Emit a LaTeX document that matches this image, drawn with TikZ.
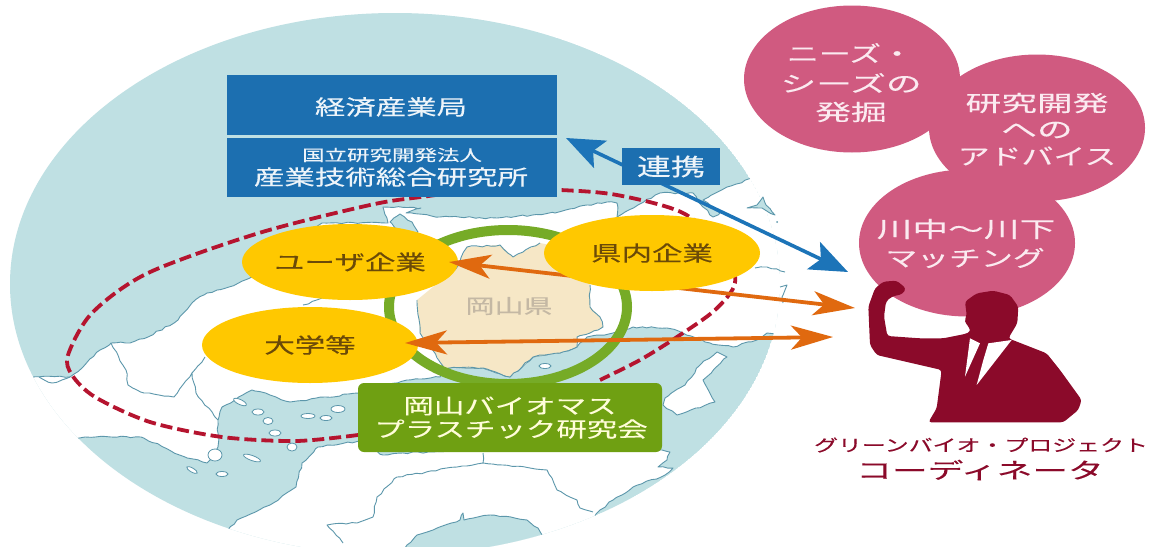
\documentclass[tikz,border=0pt]{standalone}
\usepackage{fontspec}
\usetikzlibrary{shapes.geometric,arrows.meta,decorations.pathmorphing}
\newfontfamily\jpx[FakeStretch=1.45,FakeBold=0.25]{Noto Sans CJK JP}
\newcommand{\fsz}[1]{\jpx\fontsize{#1}{#1}\selectfont}
\newcommand{\wider}[1]{\scalebox{1.12}[1]{#1}}
\definecolor{sea}{HTML}{BFE0E3}
\definecolor{coast}{HTML}{5C97AB}
\definecolor{beige}{HTML}{F6E7C6}
\definecolor{preftext}{HTML}{C4B8A4}
\definecolor{ringg}{HTML}{76AB27}
\definecolor{boxg}{HTML}{6FA012}
\definecolor{yell}{HTML}{FFC800}
\definecolor{ytext}{HTML}{6B4A08}
\definecolor{bluebox}{HTML}{1C6FB0}
\definecolor{bluearrow}{HTML}{1C74B8}
\definecolor{orangearrow}{HTML}{E0690F}
\definecolor{dashred}{HTML}{B5142F}
\definecolor{pink}{HTML}{D05A80}
\definecolor{pinktext}{HTML}{FBEAF0}
\definecolor{maroon}{HTML}{8B0A2A}
\tikzset{
  wiggle/.style={decorate,decoration={random steps,segment length=5pt,amplitude=0.9pt}},
  landshape/.style={fill=white,draw=coast,line width=0.9pt,line join=round,wiggle},
  seashape/.style={fill=sea,draw=coast,line width=0.9pt,line join=round,wiggle},
  coastline/.style={draw=coast,line width=0.9pt,line join=round,wiggle},
  isle/.style={ellipse,fill=white,draw=coast,line width=0.8pt,inner sep=0},
  yellowball/.style={ellipse,fill=yell,minimum width=216pt,minimum height=76pt,inner sep=0,text=ytext,font=\fsz{21}},
  pinkball/.style={ellipse,fill=pink,minimum width=216pt,minimum height=147pt,inner sep=0},
  pinklabel/.style={text=pinktext,inner sep=0,font=\fsz{22}},
  bluepanel/.style={fill=bluebox,inner sep=0,minimum width=330pt},
  whitelabel/.style={text=white!92!bluebox,inner sep=0},
  greenlabel/.style={text=white!85!yellow,inner sep=0,font=\fsz{21}},
  bluelink/.style={draw=bluearrow,line width=3.6pt,{Stealth[length=38pt,width=30pt,inset=8pt]}-{Stealth[length=38pt,width=30pt,inset=8pt]}},
  orangelink/.style={draw=orangearrow,line width=3.8pt,{Stealth[length=42pt,width=24pt,inset=11pt]}-{Stealth[length=42pt,width=24pt,inset=11pt]}},
}
\begin{document}
\begin{tikzpicture}[x=1pt,y=-1pt]
\pgfmathsetseed{7}
\useasboundingbox (0,0) rectangle (1155,546);
\fill[white] (0,0) rectangle (1155,546);
% sea and land, kept inside the round map
\begin{scope}
\clip (395,284) ellipse [x radius=385,y radius=271];
\fill[sea] (395,284) ellipse [x radius=385,y radius=271];
\path[landshape] (-20,377) -- (70,377) -- (83,367) -- (100,350) -- (111,343) -- (130,343) -- (148,337) -- (178,320) -- (192,303) -- (207,293) -- (229,287) -- (252,277) -- (270,255) -- (322,223) -- (388,223) -- (383,207) -- (421,208) -- (406,213) -- (440,217) -- (497,218) -- (555,213) -- (587,205) -- (607,202) -- (617,203) -- (617,217) -- (625,212) -- (660,193) -- (693,193) -- (703,207) -- (713,217) -- (720,213) -- (703,200) -- (727,187) -- (757,177) -- (810,170) -- (810,335) -- (777,335) -- (767,333) -- (757,340) -- (733,347) -- (710,343) -- (683,333) -- (667,328) -- (633,327) -- (613,333) -- (587,337) -- (577,347) -- (560,353) -- (533,357) -- (510,377) -- (483,368) -- (443,368) -- (440,377) -- (407,380) -- (359,393) -- (326,397) -- (290,402) -- (270,395) -- (252,390) -- (235,400) -- (222,407) -- (218,420) -- (218,447) -- (207,463) -- (185,457) -- (141,437) -- (111,437) -- (85,437) -- (-20,450) -- cycle;
\path[landshape] (200,560) -- (237,520) -- (270,505) -- (296,487) -- (302,463) -- (318,447) -- (359,441) -- (383,455) -- (403,453) -- (480,450) -- (662,450) -- (670,452) -- (667,460) -- (658,467) -- (673,468) -- (665,475) -- (633,487) -- (613,500) -- (600,510) -- (560,560) -- cycle;
\path[seashape] (395,560) -- (407,545) -- (417,535) -- (433,530) -- (460,520) -- (463,513) -- (464,520) -- (490,515) -- (527,520) -- (538,528) -- (560,560) -- cycle;
\path[landshape] (727,357) -- (717,352) -- (700,365) -- (685,385) -- (665,398) -- (663,405) -- (677,415) -- (715,402) -- (703,380) -- cycle;
\path[seashape] (390,222) -- (400,214) -- (412,222) -- (418,232) -- (405,235) -- (395,228) -- cycle;
\end{scope}
% coast pieces beyond the round map and boundaries on land
\draw[coastline] (39,377) -- (52,383) -- (70,377);
\draw[coastline] (111,343) -- (126,370) -- (128,385) -- (144,393) -- (174,397) -- (192,373) -- (196,393) -- (218,420);
\draw[coastline] (192,373) -- (205,357);
\draw[coastline] (303,305) -- (322,298);
\draw[coastline] (343,543) -- (327,525) -- (357,523) -- (373,517) -- (377,497) -- (397,477) -- (457,467) -- (483,463) -- (483,453);
\draw[coastline] (483,463) -- (530,468) -- (547,470) -- (557,490) -- (577,500) -- (580,508) -- (593,512);
\draw[coastline] (755,268) -- (767,267) -- (785,272);
\draw[coastline] (780,287) -- (787,285) -- (782,297) -- (783,303);
\path[seashape] (747,208) -- (757,205) -- (763,197) -- (766,205) -- (775,215) -- (762,208) -- cycle;
\fill[coast] (777,222) circle (1pt);
\node[isle,minimum width=14pt,minimum height=5pt,rotate=-25] (i1) at (240,402) {};
\node[isle,minimum width=12pt,minimum height=6pt] (i2) at (258,412) {};
\node[isle,minimum width=10pt,minimum height=7pt] (i3) at (268,421) {};
\node[isle,minimum width=12pt,minimum height=6pt] (i4) at (275,433) {};
\node[isle,minimum width=14pt,minimum height=5pt] (i5) at (308,416) {};
\node[isle,minimum width=14pt,minimum height=7pt] (i6) at (338,409) {};
\node[isle,minimum width=12pt,minimum height=5pt] (i7) at (326,418) {};
\node[isle,minimum width=14pt,minimum height=12pt] (i8) at (215,455) {};
\node[isle,minimum width=12pt,minimum height=5pt] (i9) at (222,474) {};
\node[isle,minimum width=18pt,minimum height=5pt,rotate=-20] (i10) at (252,458) {};
\node[isle,minimum width=10pt,minimum height=8pt] (i11) at (292,447) {};
\node[isle,minimum width=12pt,minimum height=4pt,rotate=-30] (i12) at (192,470) {};
% Okayama prefecture and ring
\path[fill=beige] (467,247) -- (500,245) -- (513,257) -- (540,243) -- (575,250) -- (590,285) -- (590,307) -- (600,317) -- (603,327) -- (590,333) -- (577,337) -- (577,347) -- (560,353) -- (533,357) -- (510,377) -- (483,368) -- (443,368) -- (447,373) -- (430,345) -- (420,333) -- (417,300) -- (433,287) -- (455,270) -- cycle;
\draw[coastline] (455,270) -- (467,247) -- (500,245) -- (513,257) -- (540,243);
\draw[coastline] (590,285) -- (590,307) -- (600,317) -- (603,327) -- (590,333) -- (577,337) -- (577,347) -- (560,353) -- (533,357) -- (510,377) -- (483,368) -- (443,368) -- (447,373);
\draw[coastline] (417,300) -- (420,333) -- (430,345) -- (447,373);
\node[isle,minimum width=12pt,minimum height=5pt] (i13) at (545,366) {};
\node[isle,minimum width=10pt,minimum height=5pt] (i14) at (566,372) {};
\node[inner sep=0,text=preftext,font=\fsz{20}] (pref) at (509,306) {岡山県};
\node[ellipse,draw=ringg,line width=10pt,minimum width=238pt,minimum height=154pt,inner sep=0] (ring) at (508,307) {};
% dashed zone
\draw[dashred,line width=3.8pt,dash pattern=on 12pt off 5pt] plot[smooth] coordinates {(358,435) (296,441) (222,437) (150,422) (95,397) (72,375) (68,355) (92,313) (148,273) (259,233) (370,205) (421,197) (490,189) (560,190) (617,195) (683,213) (725,250) (735,283) (715,310) (677,337) (640,360) (600,380)};
% panels
\node[bluepanel,minimum height=60pt] (meti) at (392,105) {};
\node[whitelabel,font=\fsz{21}] (metitext) at (391,107) {経済産業局};
\node[bluepanel,minimum height=59pt] (aist) at (392,167.5) {};
\node[whitelabel,font=\fsz{15.5}] (aist1) at (392,155) {国立研究開発法人};
\node[whitelabel,font=\fsz{21}] (aist2) at (391,177) {産業技術総合研究所};
% connectors and balls
\coordinate (blueA) at (566,138);
\coordinate (blueB) at (848,272);
\coordinate (oA1) at (449,262);
\coordinate (oB1) at (855,308);
\coordinate (oA2) at (405,343);
\coordinate (oB2) at (833,337);
\node[yellowball] (user) at (350,262) {ユーザ企業};
\node[yellowball] (univ) at (310,345) {大学等};
\draw[bluelink] (blueA) -- (blueB);
\draw[orangelink] (oA1) -- (oB1);
\node[yellowball] (firm) at (652,253) {県内企業};
\draw[orangelink] (oA2) -- (oB2);
\node[fill=bluebox,minimum width=98pt,minimum height=37pt,inner sep=0,text=white!92!bluebox,font=\fsz{23.5}] (link) at (671,166.5) {連携};
\node[fill=boxg,rounded corners=6pt,minimum width=304pt,minimum height=69pt,inner sep=0] (group) at (510,417.5) {};
\node[greenlabel] (g1) at (510,406) {岡山バイオマス};
\node[greenlabel] (g2) at (511,429) {プラスチック研究会};
% pink balls
\node[pinkball] (needs) at (852,79) {};
\node[pinkball] (advice) at (1037,128) {};
\node[pinkball] (match) at (967,243) {};
\node[pinklabel] (n1) at (850,53) {ニーズ・};
\node[pinklabel] (n2) at (851,83) {\wider{シーズの}};
\node[pinklabel] (n3) at (851,112) {\wider{発掘}};
\node[pinklabel] (a1) at (1037,103) {\wider{研究開発}};
\node[pinklabel] (a2) at (1037,130) {\wider{への}};
\node[pinklabel] (a3) at (1037,156) {アドバイス};
\node[pinklabel] (m1) at (966,229) {\wider{川中～川下}};
\node[pinklabel] (m2) at (965,258) {マッチング};
% figure
\begin{scope}[shift={(780,260)},x=0.3333pt,y=-0.3333pt]
\fill[maroon,rounded corners=3pt] (285,85) -- (310,65) -- (350,62) -- (378,85) -- (368,102) -- (335,110) -- (318,125) -- (312,170) -- (322,228) -- (420,235) -- (490,235) -- (555,222) -- (572,215) -- (565,198) -- (553,185) -- (560,165) -- (555,125) -- (590,100) -- (640,92) -- (690,105) -- (715,140) -- (712,190) -- (685,235) -- (800,280) -- (840,330) -- (905,420) -- (895,450) -- (850,487) -- (445,487) -- (470,445) -- (485,330) -- (290,285) -- (270,255) -- (265,140) -- cycle;
\fill[white] (570,235) -- (600,250) -- (555,350) -- cycle;
\fill[white] (625,250) -- (695,240) -- (590,375) -- (610,300) -- cycle;
\end{scope}
\node[inner sep=0,text=maroon,font=\fsz{16.5}] (title1) at (981,445) {グリーンバイオ・プロジェクト};
\node[inner sep=0,text=maroon,font=\fsz{22}] (title2) at (980,470) {\wider{コーディネータ}};
\end{tikzpicture}
\end{document}
